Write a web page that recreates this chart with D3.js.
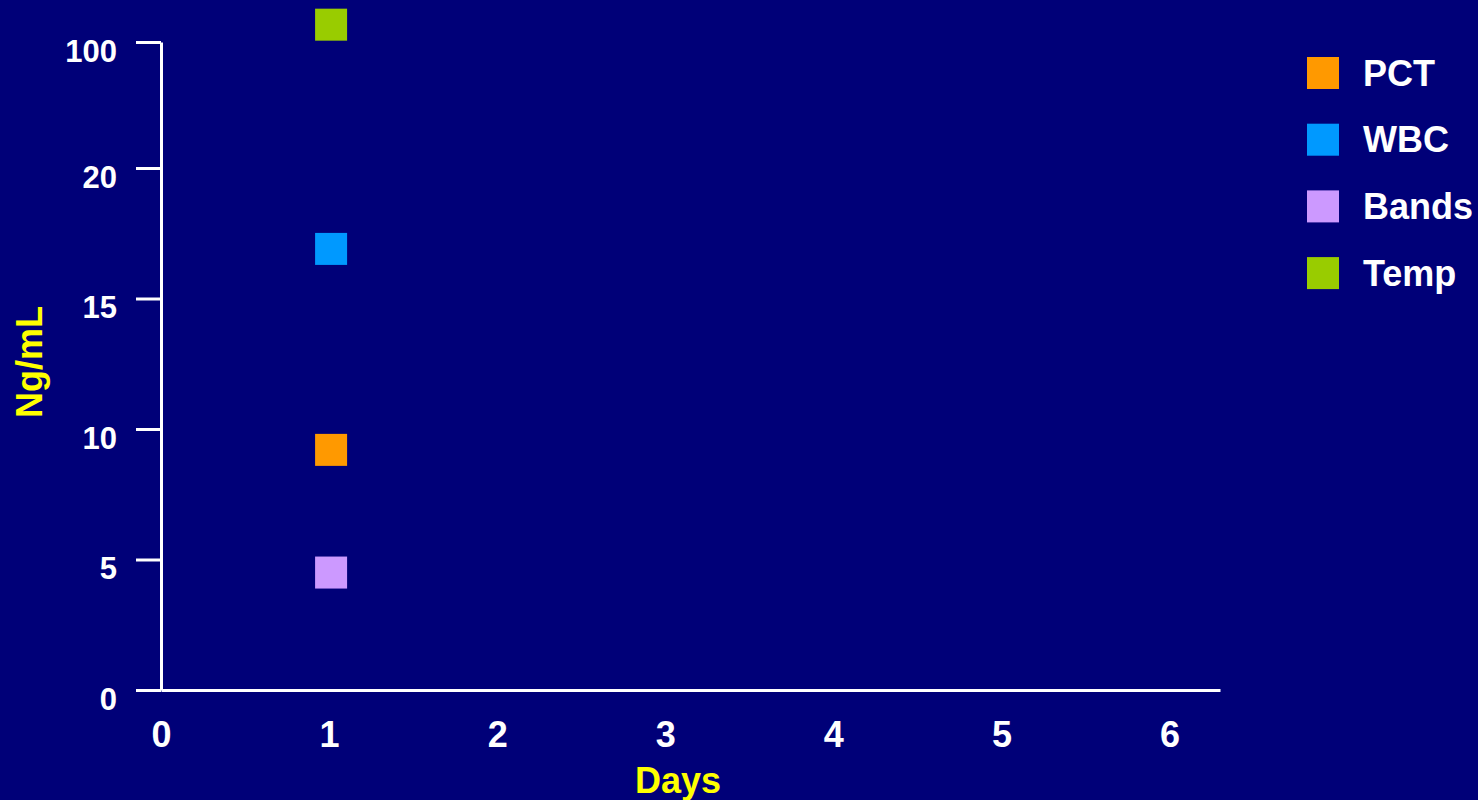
<!DOCTYPE html>
<html>
<head>
<meta charset="utf-8">
<script src="https://cdn.jsdelivr.net/npm/d3@7"></script>
<style>
  html, body { margin: 0; padding: 0; background: #000078; }
  svg { display: block; }
  text { font-family: "Liberation Sans", Arial, sans-serif; font-weight: bold; }
</style>
</head>
<body>
<svg id="chart" width="1478" height="800"></svg>
<script>
// Day-1 readings for each marker
const seriesNames = ["PCT", "WBC", "Bands", "Temp"];
const seriesColors = ["#FF9900", "#0099FF", "#CC99FF", "#99CC00"];
const seriesDays = [1, 1, 1, 1];
const seriesValues = [9.2, 16.9, 4.5, 111];

// Axis ticks
const dayTicks = [0, 1, 2, 3, 4, 5, 6];
const valueTicks = [0, 5, 10, 15, 20, 100];

const svg = d3.select("#chart");
svg.append("rect").attr("width", 1478).attr("height", 800).attr("fill", "#000078");

// x runs a little past day 6; y is broken above 20 so 100 fits at the top
const x = d3.scaleLinear().domain([0, 6.3]).range([161, 1220]);
const y = d3.scaleLinear().domain([0, 20, 100]).range([690, 168, 42]);

// Y axis
const yAxis = svg.append("g")
  .attr("transform", `translate(${x(0)},0)`)
  .call(d3.axisLeft(y).tickValues(valueTicks).tickSize(25).tickSizeOuter(0).tickFormat(d3.format("d")));
yAxis.selectAll("path, line").attr("stroke", "#fff").attr("stroke-width", 3);
yAxis.selectAll("text")
  .attr("fill", "#fff").attr("font-size", 31)
  .attr("x", -44).attr("dy", 0).attr("y", 19)
  .attr("text-anchor", "end");

// X axis
const xAxis = svg.append("g")
  .attr("transform", `translate(0,${y(0)})`)
  .call(d3.axisBottom(x).tickValues(dayTicks).tickSize(0).tickSizeOuter(0).tickFormat(d3.format("d")));
xAxis.selectAll("path").attr("stroke", "#fff").attr("stroke-width", 3);
xAxis.selectAll("text")
  .attr("fill", "#fff").attr("font-size", 36)
  .attr("y", 57).attr("dy", 0);

// Axis titles
svg.append("text")
  .attr("x", 678).attr("y", 793)
  .attr("text-anchor", "middle")
  .attr("fill", "#FFFF00").attr("font-size", 36)
  .text("Days");
svg.append("text")
  .attr("transform", "translate(42,362) rotate(-90)")
  .attr("text-anchor", "middle")
  .attr("fill", "#FFFF00").attr("font-size", 36)
  .text("Ng/mL");

// Markers
const pts = seriesNames.map((n, i) => ({ name: n, color: seriesColors[i], day: seriesDays[i], value: seriesValues[i] }));
const size = 32;
svg.append("g").selectAll("rect")
  .data(pts)
  .join("rect")
  .attr("x", d => x(d.day) + 2 - size / 2)
  .attr("y", d => y(d.value) - size / 2)
  .attr("width", size).attr("height", size)
  .attr("fill", d => d.color);

// Legend
const legend = svg.append("g").attr("transform", "translate(1307,57)");
const item = legend.selectAll("g")
  .data(pts)
  .join("g")
  .attr("transform", (d, i) => `translate(0,${i * 66.7})`);
item.append("rect").attr("width", size).attr("height", size).attr("fill", d => d.color);
item.append("text")
  .attr("x", 56).attr("y", 28.5)
  .attr("fill", "#fff").attr("font-size", 36)
  .text(d => d.name);
</script>
</body>
</html>
